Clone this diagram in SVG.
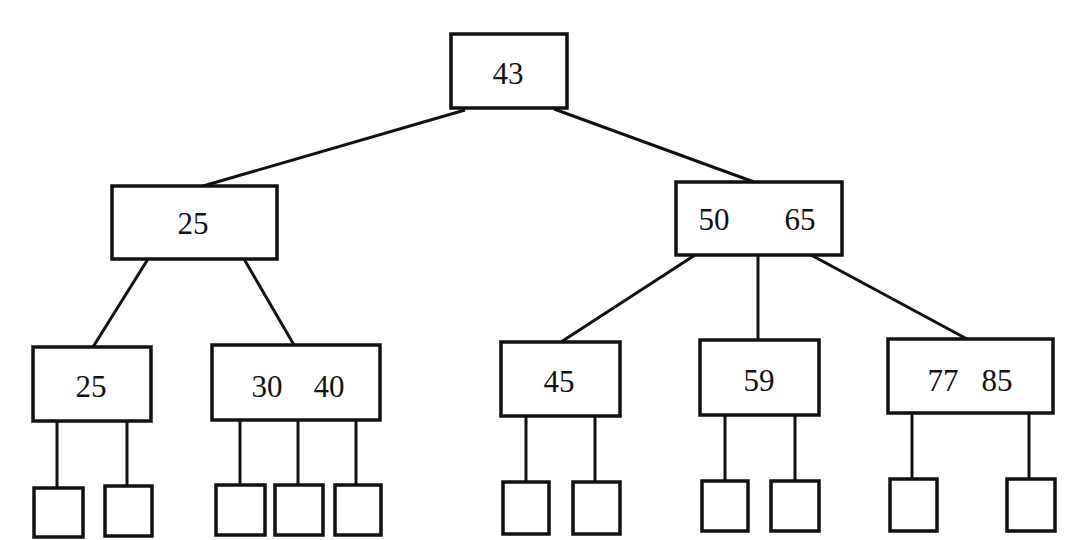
<svg xmlns="http://www.w3.org/2000/svg" width="1070" height="540" viewBox="0 0 1070 540">
<style>
.box{fill:#fff;stroke:#111;stroke-width:3.5}
.leaf{fill:#fff;stroke:#111;stroke-width:3.5}
.edge{stroke:#111;stroke-width:3;fill:none}
text{font-family:"Liberation Serif","Times New Roman",serif;font-size:31px;fill:#111;text-anchor:middle;dominant-baseline:central}
</style>
<rect width="1070" height="540" fill="#fff"/>
<g id="connectors">
<line class="edge" x1="465" y1="110" x2="203" y2="186"/>
<line class="edge" x1="554" y1="109" x2="754" y2="182"/>
<line class="edge" x1="148" y1="259" x2="93" y2="347"/>
<line class="edge" x1="244" y1="259" x2="294" y2="345"/>
<line class="edge" x1="695" y1="255" x2="561" y2="342"/>
<line class="edge" x1="758" y1="255" x2="758" y2="340"/>
<line class="edge" x1="811" y1="255" x2="967" y2="339"/>
<line class="edge" x1="57" y1="421" x2="57" y2="488"/>
<line class="edge" x1="127" y1="421" x2="127" y2="486"/>
<line class="edge" x1="240" y1="420" x2="240" y2="485"/>
<line class="edge" x1="298" y1="420" x2="298" y2="485"/>
<line class="edge" x1="356" y1="420" x2="356" y2="485"/>
<line class="edge" x1="526" y1="416" x2="526" y2="482"/>
<line class="edge" x1="595" y1="416" x2="595" y2="482"/>
<line class="edge" x1="725" y1="415" x2="725" y2="481"/>
<line class="edge" x1="795" y1="415" x2="795" y2="481"/>
<line class="edge" x1="912" y1="413" x2="912" y2="479"/>
<line class="edge" x1="1029" y1="413" x2="1029" y2="479"/>
</g>
<g id="n43"><rect class="box" x="451" y="34" width="116" height="74"/><text x="508" y="73">43</text></g>
<g id="n25a"><rect class="box" x="112" y="186" width="165" height="73"/><text x="193" y="223">25</text></g>
<g id="n5065"><rect class="box" x="676" y="182" width="166" height="73"/><text x="714" y="219">50</text><text x="800" y="219">65</text></g>
<g id="n25b"><rect class="box" x="33" y="347" width="118" height="74"/><text x="91" y="386">25</text></g>
<g id="n3040"><rect class="box" x="212" y="345" width="168" height="75"/><text x="267" y="386">30</text><text x="329" y="386">40</text></g>
<g id="n45"><rect class="box" x="501" y="342" width="119" height="74"/><text x="559" y="381">45</text></g>
<g id="n59"><rect class="box" x="700" y="340" width="119" height="75"/><text x="759" y="380">59</text></g>
<g id="n7785"><rect class="box" x="888" y="339" width="165" height="74"/><text x="943" y="380">77</text><text x="997" y="380">85</text></g>
<g id="l1"><rect class="leaf" x="34" y="488" width="49" height="49"/></g>
<g id="l2"><rect class="leaf" x="105" y="486" width="47" height="50"/></g>
<g id="l3"><rect class="leaf" x="216" y="485" width="49" height="50"/></g>
<g id="l4"><rect class="leaf" x="275" y="485" width="48" height="50"/></g>
<g id="l5"><rect class="leaf" x="335" y="485" width="46" height="50"/></g>
<g id="l6"><rect class="leaf" x="503" y="482" width="46" height="52"/></g>
<g id="l7"><rect class="leaf" x="573" y="482" width="47" height="52"/></g>
<g id="l8"><rect class="leaf" x="702" y="481" width="46" height="50"/></g>
<g id="l9"><rect class="leaf" x="771" y="481" width="48" height="50"/></g>
<g id="l10"><rect class="leaf" x="890" y="479" width="47" height="52"/></g>
<g id="l11"><rect class="leaf" x="1007" y="479" width="48" height="52"/></g>
</svg>
